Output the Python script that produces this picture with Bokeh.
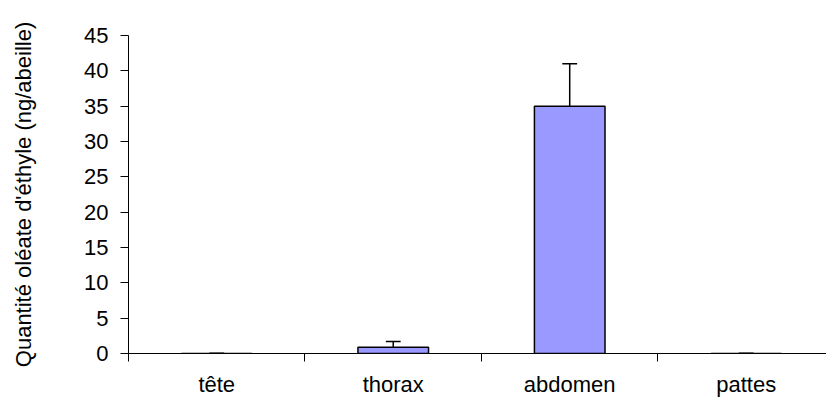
from bokeh.plotting import figure
from bokeh.models import Range1d, FixedTicker, LinearAxis, ColumnDataSource
from bokeh.embed import file_html
from bokeh.resources import INLINE

categories = ["tête", "thorax", "abdomen", "pattes"]
values = [0.0, 0.9, 35.0, 0.0]
errors = [0.05, 0.8, 6.0, 0.05]
y_ticks = [0, 5, 10, 15, 20, 25, 30, 35, 40, 45]

FONT = "Liberation Sans"
FS = "22px"
n = len(categories)
centers = [i + 0.5 for i in range(n)]
upper = [v + e for v, e in zip(values, errors)]

p = figure(width=826, height=401, output_backend="svg", toolbar_location=None,
           x_axis_type=None, min_border_left=128, min_border_right=0,
           min_border_top=35, min_border_bottom=48)
p.x_range = Range1d(0, 3.955)
p.y_range = Range1d(0, 45)
p.outline_line_color = None
p.grid.visible = False
p.background_fill_color = "white"

src = ColumnDataSource(dict(x=centers, top=values, upper=upper))
p.vbar(x="x", top="top", bottom=0, width=0.4, source=src,
       fill_color="#9999FF", line_color="black", line_width=1.5)
p.segment(x0="x", y0="top", x1="x", y1="upper", source=src, line_color="black", line_width=1.5)
p.segment(x0=[c - 0.042 for c in centers], y0=upper, x1=[c + 0.042 for c in centers], y1=upper,
          line_color="black", line_width=1.5)

# y axis
ya = p.yaxis[0]
ya.ticker = FixedTicker(ticks=y_ticks)
ya.axis_label = "Quantité oléate d'éthyle (ng/abeille)"
ya.axis_label_text_font = FONT
ya.axis_label_text_font_size = FS
ya.axis_label_text_font_style = "normal"
ya.axis_label_text_color = "black"
ya.major_label_text_font = FONT
ya.major_label_text_font_size = FS
ya.major_label_text_color = "black"
ya.major_tick_out = 8
ya.major_tick_in = 0
ya.minor_tick_out = 0
ya.minor_tick_in = 0
ya.axis_line_color = "black"
ya.major_tick_line_color = "black"
ya.major_label_standoff = 12
ya.axis_label_standoff = 45

# x axis: boundary ticks
xa = LinearAxis(ticker=FixedTicker(ticks=list(range(n + 1))),
                major_label_overrides={i: "" for i in range(n + 1)},
                major_tick_out=8, major_tick_in=0, minor_tick_out=0, minor_tick_in=0,
                axis_line_color="black", major_tick_line_color="black",
                major_label_text_font_size="1px", major_label_standoff=0)
p.add_layout(xa, "below")
# x axis: category labels
xl = LinearAxis(ticker=FixedTicker(ticks=centers),
                major_label_overrides={c: lab for c, lab in zip(centers, categories)},
                major_tick_out=0, major_tick_in=0, minor_tick_out=0, minor_tick_in=0,
                axis_line_color=None, major_tick_line_color=None,
                major_label_text_font=FONT, major_label_text_font_size=FS,
                major_label_text_color="black", major_label_standoff=10)
p.add_layout(xl, "below")

open("out.html", "w").write(file_html(p, INLINE))
